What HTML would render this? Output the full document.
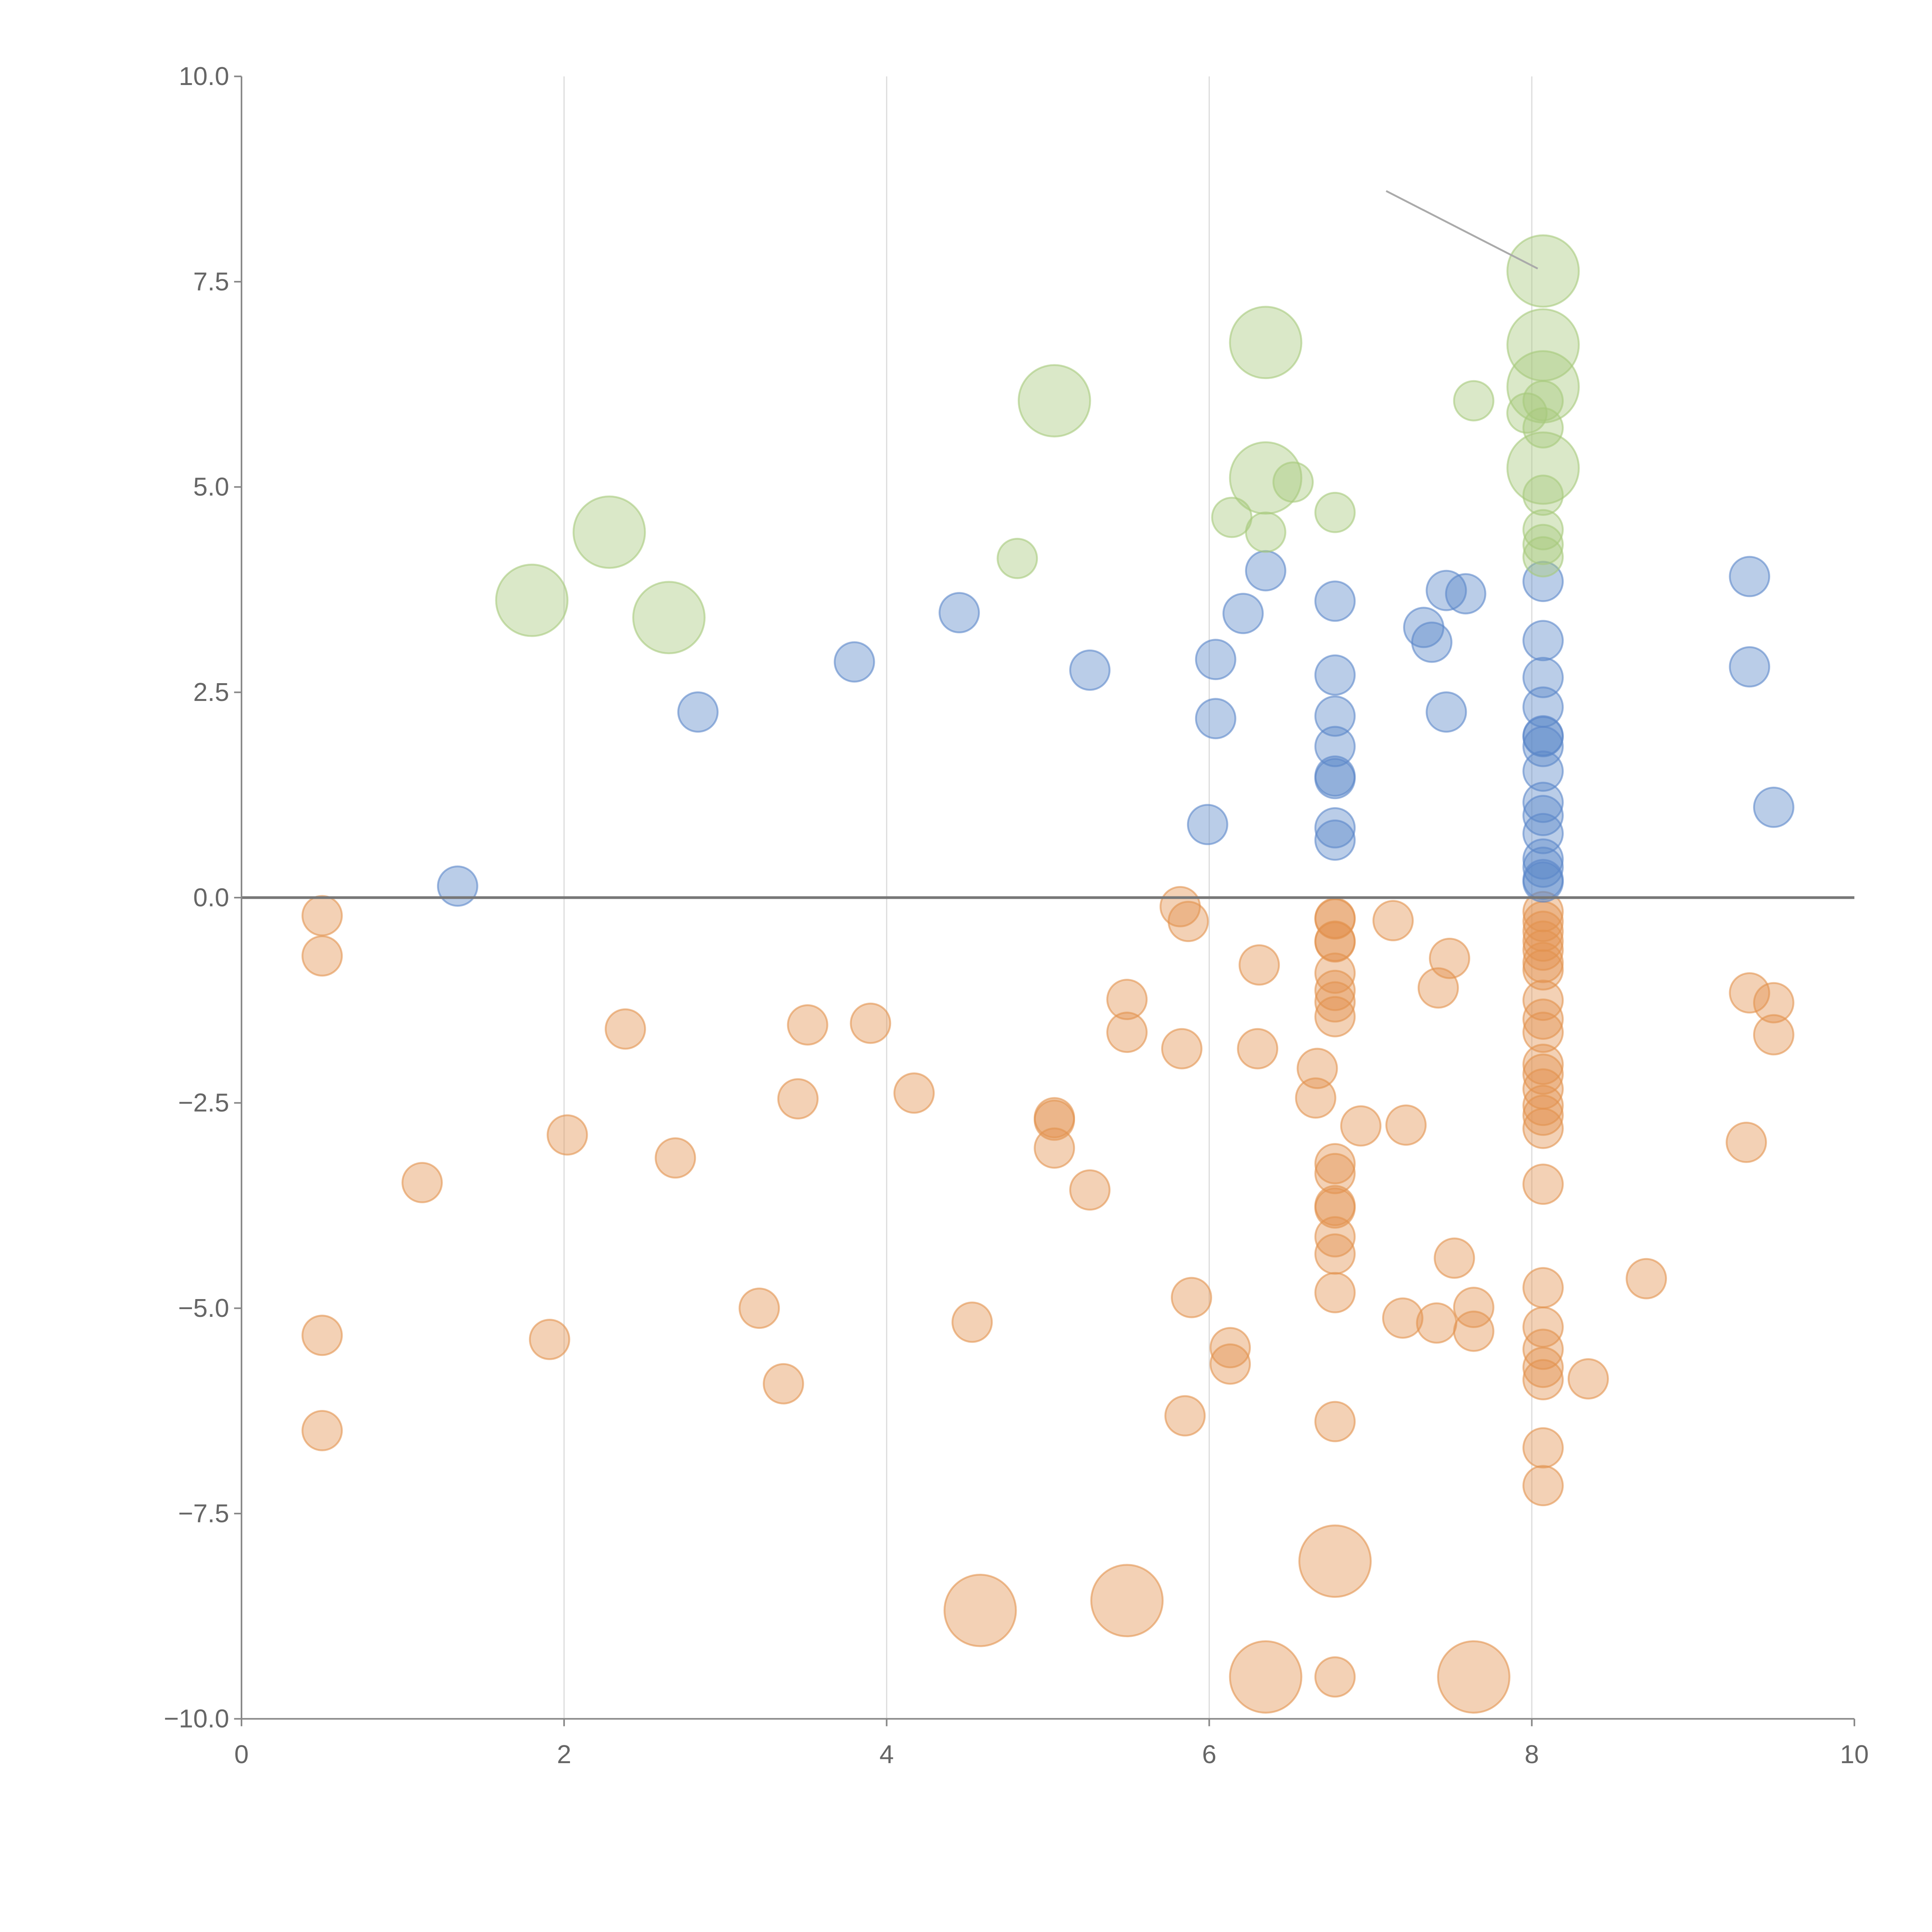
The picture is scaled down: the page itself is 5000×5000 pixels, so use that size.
<!DOCTYPE html>
<html><head><meta charset="utf-8"><style>
html,body{margin:0;padding:0;background:#fff;}
svg{display:block;font-family:"Liberation Sans",Arial,sans-serif;}
</style></head><body>
<svg id="chart" width="5000" height="5000" viewBox="0 0 1568 1568" xmlns="http://www.w3.org/2000/svg">
<g id="grid"></g>
<g id="marks"></g>
<g id="axes"></g>
<line x1="1125" y1="155" x2="1248" y2="218" stroke="#aaa" stroke-width="1.5"/>
</svg>
<script>
const xTicks=[0,2,4,6,8,10];
const yTicks=[10,7.5,5,2.5,0,-2.5,-5,-7.5,-10];
const yTickLabels=["10.0","7.5","5.0","2.5","0.0","\u22122.5","\u22125.0","\u22127.5","\u221210.0"];
const blueX=[1.34,2.83,3.80,4.45,5.26,5.99,6.04,6.04,6.21,6.35,6.78,6.78,6.78,6.78,6.78,6.78,6.78,6.78,7.33,7.38,7.47,7.59,7.47,8.07,8.07,8.07,8.07,8.07,8.07,8.07,8.07,8.07,8.07,8.07,8.07,8.07,8.07,8.07,9.35,9.35,9.50];
const blueY=[0.14,2.26,2.87,3.47,2.77,0.89,2.18,2.90,3.46,3.98,3.61,2.71,2.21,1.84,1.48,1.45,0.85,0.70,3.29,3.11,3.74,3.70,2.26,3.85,3.13,2.68,2.32,1.97,1.96,1.84,1.54,1.16,1.00,0.78,0.47,0.37,0.22,0.19,3.91,2.81,1.10];
const greenX=[1.80,2.28,2.65,4.81,5.04,6.14,6.35,6.35,6.35,6.52,6.78,7.64,7.97,8.07,8.07,8.07,8.07,8.07,8.07,8.07,8.07,8.07,8.07];
const greenY=[3.62,4.45,3.41,4.13,6.05,4.63,6.76,5.11,4.45,5.06,4.69,6.05,5.90,7.63,6.73,6.22,5.23,6.05,5.72,4.90,4.48,4.30,4.15];
const greenBig=[1,1,1,0,1,0,1,1,0,0,0,0,0,1,1,1,1,0,0,0,0,0,0];
const orangeX=[0.50,0.50,0.50,0.50,1.12,1.91,2.02,2.38,2.69,3.21,3.36,3.45,3.51,3.90,4.17,4.53,4.58,5.04,5.04,5.04,5.26,5.49,5.49,5.49,5.82,5.87,5.83,5.89,5.85,6.13,6.13,6.31,6.30,6.35,6.67,6.66,
6.78,6.78,6.78,6.78,6.78,6.78,6.78,6.78,6.78,6.78,6.78,6.78,6.78,6.78,6.78,6.78,6.78,6.78,
6.94,7.14,7.22,7.20,7.41,7.42,7.49,7.52,7.64,7.64,7.64,
8.07,8.07,8.07,8.07,8.07,8.07,8.07,8.07,8.07,8.07,8.07,8.07,8.07,8.07,8.07,8.07,8.07,8.07,8.07,8.07,8.07,8.07,8.07,8.07,
8.35,8.71,9.35,9.50,9.50,9.33];
const orangeY=[-0.22,-0.71,-5.33,-6.49,-3.47,-5.38,-2.89,-1.60,-3.17,-5.00,-5.92,-2.45,-1.55,-1.53,-2.38,-5.17,-8.68,-2.68,-2.71,-3.05,-3.56,-1.24,-1.64,-8.56,-0.11,-0.29,-1.84,-4.87,-6.31,-5.48,-5.68,-0.82,-1.84,-9.49,-2.08,-2.44,
-0.25,-0.26,-0.53,-0.54,-0.92,-1.13,-1.27,-1.45,-3.24,-3.36,-3.75,-3.78,-4.13,-4.34,-4.81,-6.38,-8.08,-9.49,
-2.78,-0.28,-2.77,-5.12,-5.18,-1.10,-0.74,-4.39,-4.99,-5.28,-9.49,
-0.17,-0.29,-0.41,-0.53,-0.64,-0.79,-0.88,-1.25,-1.48,-1.64,-2.03,-2.15,-2.33,-2.53,-2.65,-2.81,-3.49,-4.75,-5.23,-5.50,-5.72,-5.87,-6.70,-7.16,
-5.86,-4.64,-1.16,-1.28,-1.67,-2.98];
const orangeBig=[0,0,0,0,0,0,0,0,0,0,0,0,0,0,0,0,1,0,0,0,0,0,0,1,0,0,0,0,0,0,0,0,0,1,0,0,
0,0,0,0,0,0,0,0,0,0,0,0,0,0,0,0,1,0,
0,0,0,0,0,0,0,0,0,0,1,
0,0,0,0,0,0,0,0,0,0,0,0,0,0,0,0,0,0,0,0,0,0,0,0,
0,0,0,0,0,0];

const NS="http://www.w3.org/2000/svg";
const X0=196,X1=1505,Y0=1395,Y1=62;
const sx=v=>X0+(v-0)/(10-0)*(X1-X0);
const sy=v=>Y0-(v+10)/20*(Y0-Y1);
function mk(tag,attrs,parent){const e=document.createElementNS(NS,tag);for(const k in attrs)e.setAttribute(k,attrs[k]);parent.appendChild(e);return e;}
const grid=document.getElementById('grid'),marks=document.getElementById('marks'),axes=document.getElementById('axes');
xTicks.forEach(t=>{if(t>0&&t<10){const l=mk('line',{x1:sx(t),x2:sx(t),y1:Y1,y2:Y0,stroke:'#ddd','stroke-width':1},grid);

}});
function drawSeries(xs,ys,big,fill,stroke,name){
  xs.forEach((x,i)=>{const c=mk('circle',{cx:sx(x),cy:sy(ys[i]),r:(big&&big[i])?29:16,fill:fill,'fill-opacity':0.42,stroke:stroke,'stroke-opacity':0.6,'stroke-width':1.5},marks);
  
  });
}
drawSeries(orangeX,orangeY,orangeBig,'#e2924f','#e2924f','orange-bubble');
drawSeries(blueX,blueY,null,'#5b87c9','#5b87c9','blue-bubble');
drawSeries(greenX,greenY,greenBig,'#a6c97c','#a6c97c','green-bubble');
const zl=mk('line',{x1:X0,x2:X1,y1:sy(0),y2:sy(0),stroke:'#777','stroke-width':2.2},axes);


const ya=mk('line',{x1:X0,x2:X0,y1:Y1,y2:Y0,stroke:'#888','stroke-width':1.3},axes);


const xa=mk('line',{x1:X0,x2:X1,y1:Y0,y2:Y0,stroke:'#888','stroke-width':1.3},axes);


xTicks.forEach(t=>{mk('line',{x1:sx(t),x2:sx(t),y1:Y0,y2:Y0+6,stroke:'#888','stroke-width':1.3},axes);
  const tx=mk('text',{x:sx(t),y:Y0+36,'text-anchor':'middle','font-size':21,fill:'#666'},axes);tx.textContent=t;
  
  });
yTicks.forEach((t,i)=>{mk('line',{x1:X0-6,x2:X0,y1:sy(t),y2:sy(t),stroke:'#888','stroke-width':1.3},axes);
  const tx=mk('text',{x:X0-10,y:sy(t)+7,'text-anchor':'end','font-size':21,fill:'#666'},axes);tx.textContent=yTickLabels[i];
  
  });
</script>
</body></html>
